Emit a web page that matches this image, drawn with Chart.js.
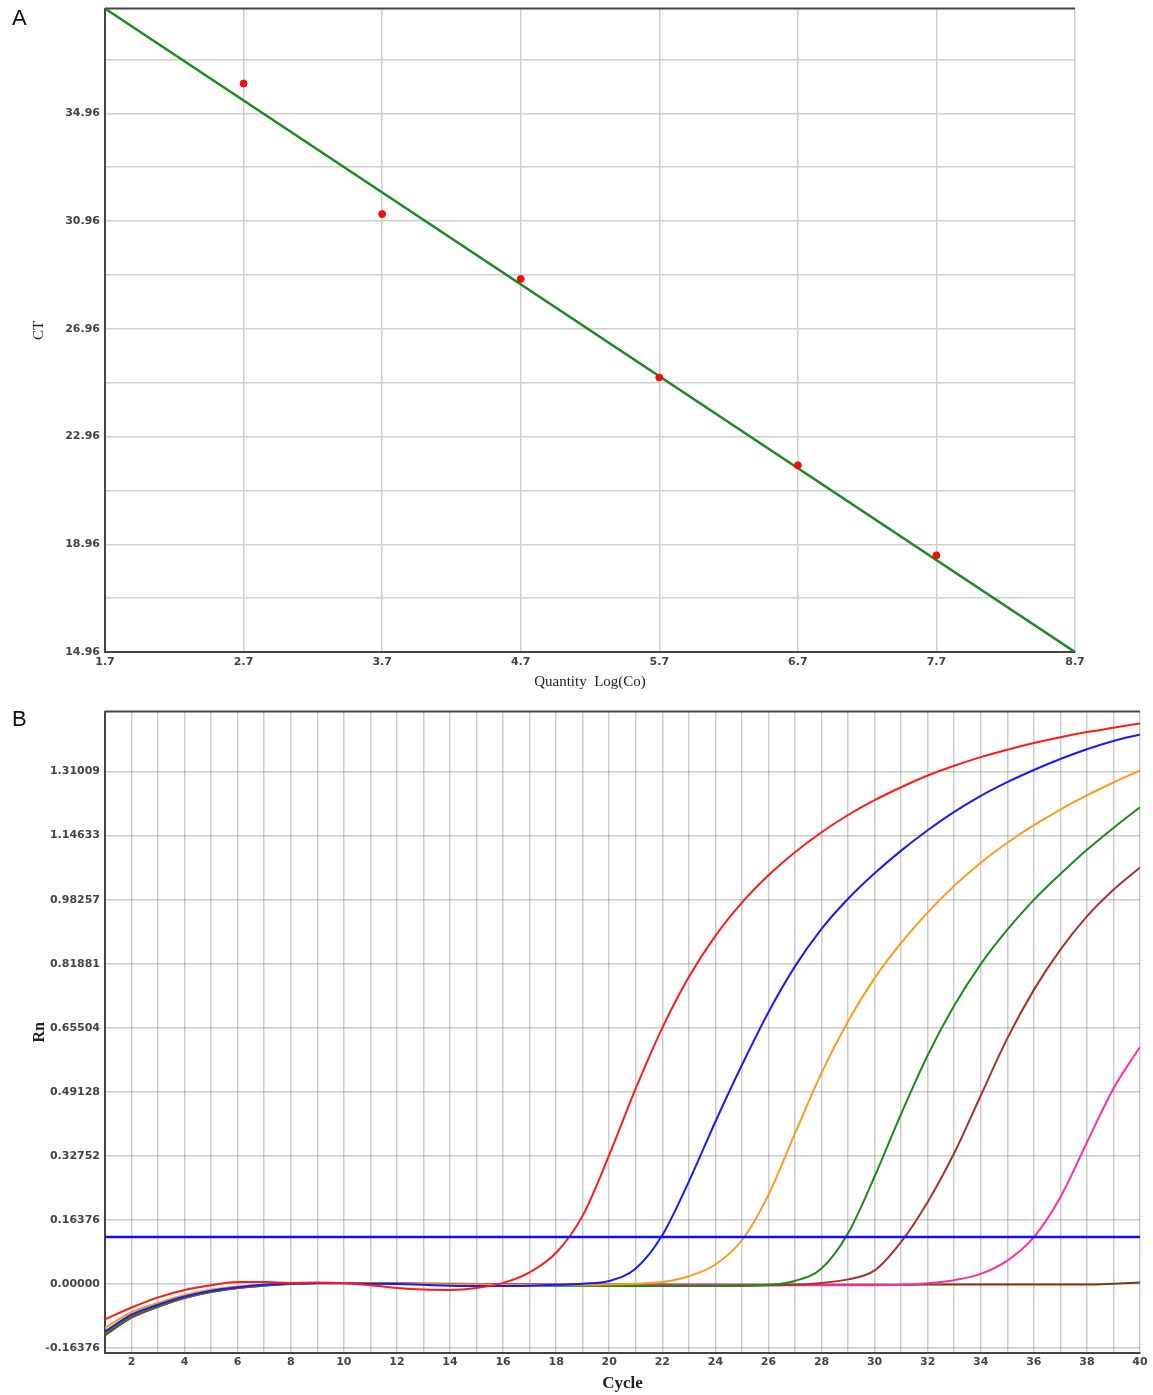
<!DOCTYPE html>
<html>
<head>
<meta charset="utf-8">
<script src="https://cdn.jsdelivr.net/npm/chart.js@4.4.1/dist/chart.umd.min.js"></script>
<style>
  body { margin: 0; background: #fff; width: 1153px; height: 1395px; position: relative; overflow: hidden; }
  .box { position: absolute; left: 0; width: 1153px; }
  .tag { position: absolute; left: 12px; font: 22px "Liberation Sans", Arial, sans-serif; color: #111; }
</style>
</head>
<body>
<div class="box" style="top:-3px;height:703px"><canvas id="stdCurve"></canvas></div>
<div class="box" style="top:700px;height:695px"><canvas id="ampPlot"></canvas></div>
<div class="tag" style="top:5px">A</div>
<div class="tag" style="top:706px">B</div>

<script>
// --- panel A: standard curve ---
const logQty = [2.7, 3.7, 4.7, 5.7, 6.7, 7.7];
const ctValues = [36.07, 31.22, 28.81, 25.15, 21.89, 18.55];
const fitX = [1.7, 8.7];
const fitCT = [38.85, 14.96];
const qtyTicks = [1.7, 2.7, 3.7, 4.7, 5.7, 6.7, 7.7, 8.7];
const ctTicks = [14.96, 16.96, 18.96, 20.96, 22.96, 24.96, 26.96, 28.96, 30.96, 32.96, 34.96, 36.96];
const ctLabels = ['14.96', '18.96', '22.96', '26.96', '30.96', '34.96'];

// --- panel B: amplification curves ---
const cycles = [1, 2, 3, 4, 5, 6, 7, 8, 9, 10, 11, 12, 13, 14, 15, 16, 17, 18, 19, 20,
                21, 22, 23, 24, 25, 26, 27, 28, 29, 30, 31, 32, 33, 34, 35, 36, 37, 38, 39, 40];
const rnRed = [-0.090, -0.060, -0.034, -0.015, -0.003, 0.005, 0.005, 0.003, 0.004, 0.002,
  -0.003, -0.010, -0.014, -0.015, -0.010, 0.003, 0.030, 0.080, 0.175, 0.330,
  0.500, 0.655, 0.785, 0.890, 0.975, 1.045, 1.104, 1.155, 1.199, 1.237,
  1.270, 1.300, 1.325, 1.347, 1.366, 1.383, 1.398, 1.411, 1.422, 1.433];
const rnBlue = [-0.121, -0.078, -0.053, -0.032, -0.017, -0.008, -0.002, 0.001, 0.003, 0.002,
  0.001, 0.000, -0.002, -0.004, -0.005, -0.005, -0.004, -0.002, 0.001, 0.008,
  0.040, 0.125, 0.262, 0.415, 0.560, 0.695, 0.812, 0.908, 0.985, 1.050,
  1.108, 1.160, 1.207, 1.248, 1.283, 1.314, 1.342, 1.367, 1.388, 1.405];
const rnOrange = [-0.112, -0.072, -0.048, -0.028, -0.014, -0.006, -0.001, 0.002, 0.003, 0.003,
  0.002, 0.001, 0.000, -0.001, -0.001, -0.002, -0.002, -0.002, -0.002, -0.001,
  0.001, 0.005, 0.020, 0.050, 0.112, 0.228, 0.385, 0.540, 0.672, 0.782,
  0.872, 0.950, 1.018, 1.077, 1.128, 1.173, 1.213, 1.249, 1.282, 1.313];
const rnGreen = [-0.126, -0.082, -0.056, -0.034, -0.019, -0.009, -0.003, 0.001, 0.003, 0.003,
  0.002, 0.001, 0.000, -0.001, -0.002, -0.003, -0.003, -0.004, -0.004, -0.005,
  -0.005, -0.005, -0.005, -0.005, -0.004, -0.002, 0.008, 0.040, 0.130, 0.275,
  0.435, 0.585, 0.712, 0.818, 0.906, 0.982, 1.048, 1.110, 1.166, 1.219];
const rnMaroon = [-0.130, -0.085, -0.058, -0.035, -0.020, -0.010, -0.003, 0.001, 0.003, 0.003,
  0.002, 0.001, 0.000, -0.001, -0.002, -0.002, -0.003, -0.003, -0.003, -0.004,
  -0.004, -0.004, -0.004, -0.004, -0.004, -0.003, -0.002, 0.003, 0.012, 0.035,
  0.108, 0.210, 0.335, 0.482, 0.628, 0.752, 0.855, 0.940, 1.008, 1.065];
const rnPink = [-0.128, -0.084, -0.057, -0.035, -0.019, -0.010, -0.003, 0.001, 0.003, 0.003,
  0.002, 0.002, 0.001, 0.000, 0.000, -0.001, -0.001, -0.001, -0.002, -0.002,
  -0.002, -0.002, -0.002, -0.002, -0.003, -0.003, -0.003, -0.003, -0.003, -0.003,
  -0.002, 0.002, 0.010, 0.026, 0.060, 0.120, 0.222, 0.362, 0.500, 0.606];
const rnNtc = [-0.131, -0.086, -0.058, -0.036, -0.020, -0.010, -0.004, 0.000, 0.002, 0.003,
  0.002, 0.002, 0.001, 0.001, 0.000, 0.000, 0.000, -0.001, -0.001, -0.001,
  -0.001, -0.001, -0.002, -0.002, -0.002, -0.002, -0.002, -0.002, -0.002, -0.002,
  -0.002, -0.001, -0.001, -0.001, -0.001, -0.001, -0.001, -0.001, 0.001, 0.004];
const threshold = 0.12;
const rnTicks = [-0.16376, 0.00000, 0.16376, 0.32752, 0.49128, 0.65504, 0.81881, 0.98257, 1.14633, 1.31009];

const tickFont = { family: 'DejaVu Sans', size: 11, weight: 'bold' };
const titleFont = { family: 'Liberation Serif', size: 15 };

// dark line along the top of the plot area
const topBorder = {
  id: 'topBorder',
  beforeDatasetsDraw(chart) {
    const { ctx, chartArea: a } = chart;
    ctx.save();
    ctx.strokeStyle = '#444';
    ctx.lineWidth = 2;
    ctx.beginPath();
    ctx.moveTo(a.left, a.top);
    ctx.lineTo(a.right, a.top);
    ctx.stroke();
    ctx.restore();
  }
};

const pts = (xs, ys) => xs.map((x, i) => ({ x: x, y: ys[i] }));

new Chart(document.getElementById('stdCurve'), {
  type: 'scatter',
  data: {
    datasets: [
      {
        data: pts(logQty, ctValues),
        backgroundColor: '#ee1111',
        borderColor: '#ee1111',
        pointRadius: 3.5
      },
      {
        type: 'line',
        data: pts(fitX, fitCT),
        borderColor: '#1c8a1c',
        borderWidth: 2.5,
        pointRadius: 0,
        fill: false
      }
    ]
  },
  options: {
    animation: false,
    responsive: true,
    maintainAspectRatio: false,
    layout: { padding: { left: 26, top: 5, right: 78, bottom: 4 } },
    plugins: { legend: { display: false }, tooltip: { enabled: false } },
    scales: {
      x: {
        type: 'linear',
        min: 1.7,
        max: 8.7,
        afterBuildTicks: s => { s.ticks = qtyTicks.map(v => ({ value: v })); },
        afterFit: s => { s.height = 44; },
        ticks: { font: tickFont, color: '#444', padding: 4, callback: v => v.toFixed(1) },
        grid: { color: '#cfcfcf', lineWidth: 1.5, drawTicks: false },
        border: { color: '#444', width: 2 },
        title: { display: true, text: 'Quantity  Log(Co)', font: titleFont, color: '#222', padding: { top: 2, bottom: 5 } }
      },
      y: {
        min: 14.96,
        max: 38.85,
        afterBuildTicks: s => { s.ticks = ctTicks.map(v => ({ value: v })); },
        afterFit: s => { s.width = 79; },
        ticks: {
          font: tickFont, color: '#444', padding: 5,
          callback: v => ctLabels.includes(v.toFixed(2)) ? v.toFixed(2) : ''
        },
        grid: { color: '#cfcfcf', lineWidth: 1.5, drawTicks: false },
        border: { color: '#444', width: 2 },
        title: { display: true, text: 'CT', font: titleFont, color: '#222' }
      }
    }
  },
  plugins: [topBorder]
});

const curve = (ys, color) => ({
  data: pts(cycles, ys),
  borderColor: color,
  borderWidth: 2,
  pointRadius: 0,
  fill: false,
  cubicInterpolationMode: 'monotone'
});

new Chart(document.getElementById('ampPlot'), {
  type: 'line',
  data: {
    datasets: [
      {
        data: pts([cycles[0], cycles[cycles.length - 1]], [threshold, threshold]),
        borderColor: '#1010ff',
        borderWidth: 2.5,
        pointRadius: 0
      },
      curve(rnRed, '#ff1a1a'),
      curve(rnBlue, '#1a1aff'),
      curve(rnOrange, '#ff9a1a'),
      curve(rnGreen, '#1a8c1a'),
      curve(rnMaroon, '#a83232'),
      curve(rnPink, '#ff2fa0'),
      curve(rnNtc, '#7a3a10')
    ]
  },
  options: {
    animation: false,
    responsive: true,
    maintainAspectRatio: false,
    layout: { padding: { left: 26, top: 11, right: 13, bottom: 1 } },
    plugins: { legend: { display: false }, tooltip: { enabled: false } },
    scales: {
      x: {
        type: 'linear',
        min: 1,
        max: 40,
        afterBuildTicks: s => { s.ticks = cycles.map(v => ({ value: v })); },
        afterFit: s => { s.height = 41; },
        ticks: {
          font: tickFont, color: '#444', padding: 3, autoSkip: false, maxRotation: 0,
          callback: v => v % 2 === 0 ? String(v) : ''
        },
        grid: { color: 'rgba(0,0,0,0.2)', lineWidth: 1.5, drawTicks: false },
        border: { color: '#444', width: 2 },
        title: { display: true, text: 'Cycle', font: { family: 'Liberation Serif', size: 17, weight: 'bold' }, color: '#222', padding: { top: 0, bottom: 0 } }
      },
      y: {
        min: -0.1762,
        max: 1.4633,
        afterBuildTicks: s => { s.ticks = rnTicks.map(v => ({ value: v })); },
        afterFit: s => { s.width = 79; },
        ticks: { font: tickFont, color: '#444', padding: 5, autoSkip: false, callback: v => v.toFixed(5) },
        grid: { color: 'rgba(0,0,0,0.2)', lineWidth: 1.5, drawTicks: false },
        border: { color: '#444', width: 2 },
        title: { display: true, text: 'Rn', font: { family: 'Liberation Serif', size: 16, weight: 'bold' }, color: '#222' }
      }
    }
  },
  plugins: [topBorder]
});
</script>
</body>
</html>
